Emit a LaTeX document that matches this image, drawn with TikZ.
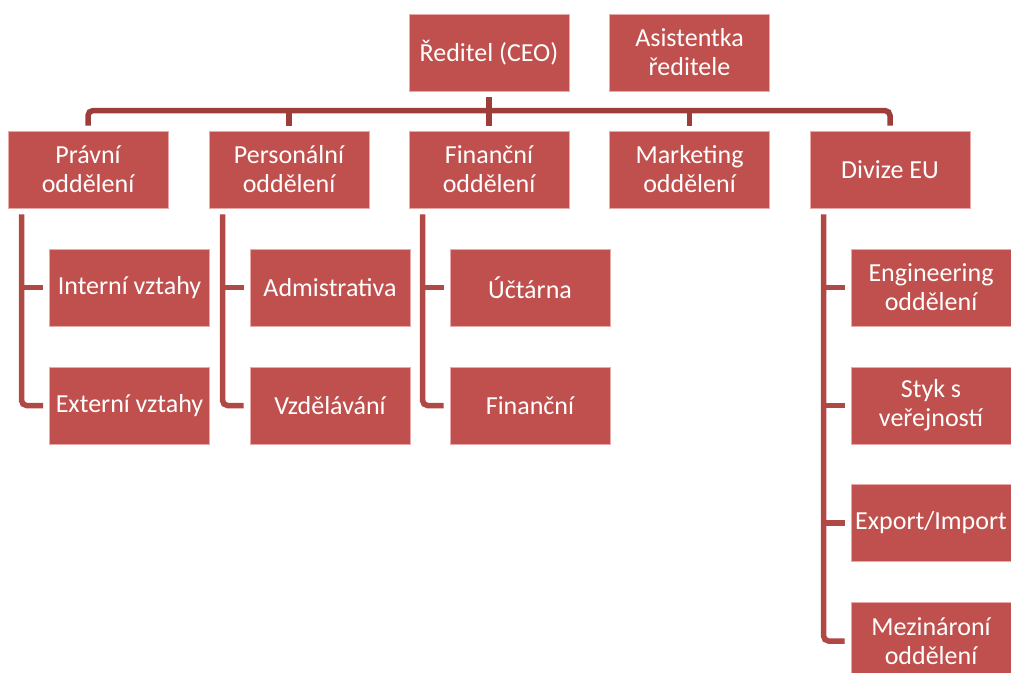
\documentclass[tikz,border=0pt]{standalone}
\usepackage{fontspec}
\setmainfont{Carlito}
\usetikzlibrary{calc}
\definecolor{boxfill}{HTML}{C0504D}
\definecolor{boxedge}{HTML}{E8AAA8}
\definecolor{barcol}{HTML}{9E3E3B}
\definecolor{subcol}{HTML}{B04845}
\tikzset{
  orgbox/.style={rectangle, fill=boxfill, draw=boxedge, line width=0.9pt,
    minimum width=160pt, minimum height=77pt, inner sep=2pt, text=white,
    align=center, font=\fontsize{26pt}{29pt}\selectfont},
  barline/.style={draw=barcol, line width=5.5pt},
  subline/.style={draw=subcol, line width=5.5pt},
}
\begin{document}
\begin{tikzpicture}[x=1pt,y=-1pt]
\clip (0,0) rectangle (1011,672);
\fill[white] (0,0) rectangle (1011,672);
% top level
\node[orgbox] (ceo) at (489,52.5) {Ředitel (CEO)};
\node[orgbox] (as) at (689.5,52.5) {Asistentka\\ředitele};
% level 1
\node[orgbox] (pr) at (88,169.5) {Právní\\oddělení};
\node[orgbox] (pe) at (289,169.5) {Personální\\oddělení};
\node[orgbox] (fi) at (489,169.5) {Finanční\\oddělení};
\node[orgbox] (mk) at (689.5,169.5) {Marketing\\oddělení};
\node[orgbox] (eu) at (890,169.5) {Divize EU};
% children
\node[orgbox] (int) at (129.5,287.5) {Interní vztahy};
\node[orgbox] (ext) at (129.5,405.5) {Externí vztahy};
\node[orgbox] (adm) at (330,287.5) {Admistrativa};
\node[orgbox] (vzd) at (330,405.5) {Vzdělávání};
\node[orgbox] (uct) at (530,287.5) {Účtárna};
\node[orgbox] (fin) at (530,405.5) {Finanční};
\node[orgbox] (eng) at (931,287.5) {Engineering\\oddělení};
\node[orgbox] (sty) at (931,405.5) {Styk s\\veřejností};
\node[orgbox] (exp) at (931,523) {Export/Import};
\node[orgbox] (mez) at (931,641) {Mezinároní\\oddělení};
% bus
\draw[barline, rounded corners=5pt] ($(pr.north)-(0,5)$) |- ($(eu.north)-(0,20)$) -- ($(eu.north)-(0,5)$);
\draw[barline] ($(ceo.south)+(0,6)$) -- ($(fi.north)-(0,5)$);
\draw[barline] ($(pe.north)-(0,22)$) -- ($(pe.north)-(0,5)$);
\draw[barline] ($(mk.north)-(0,22)$) -- ($(mk.north)-(0,5)$);
% sub lines
\coordinate (prL) at ($(pr.south west)+(14,6)$);
\coordinate (peL) at ($(pe.south west)+(14,6)$);
\coordinate (fiL) at ($(fi.south west)+(14,6)$);
\coordinate (euL) at ($(eu.south west)+(14,6)$);
\draw[subline, rounded corners=5pt] (prL) |- ($(ext.west)-(6,0)$);
\draw[subline] ($(int.west)-(6,0)$) -- (int.west -| prL);
\draw[subline, rounded corners=5pt] (peL) |- ($(vzd.west)-(6,0)$);
\draw[subline] ($(adm.west)-(6,0)$) -- (adm.west -| peL);
\draw[subline, rounded corners=5pt] (fiL) |- ($(fin.west)-(6,0)$);
\draw[subline] ($(uct.west)-(6,0)$) -- (uct.west -| fiL);
\draw[subline, rounded corners=5pt] (euL) |- ($(mez.west)-(6,0)$);
\draw[subline] ($(eng.west)-(6,0)$) -- (eng.west -| euL);
\draw[subline] ($(sty.west)-(6,0)$) -- (sty.west -| euL);
\draw[subline] ($(exp.west)-(6,0)$) -- (exp.west -| euL);
\end{tikzpicture}
\end{document}
